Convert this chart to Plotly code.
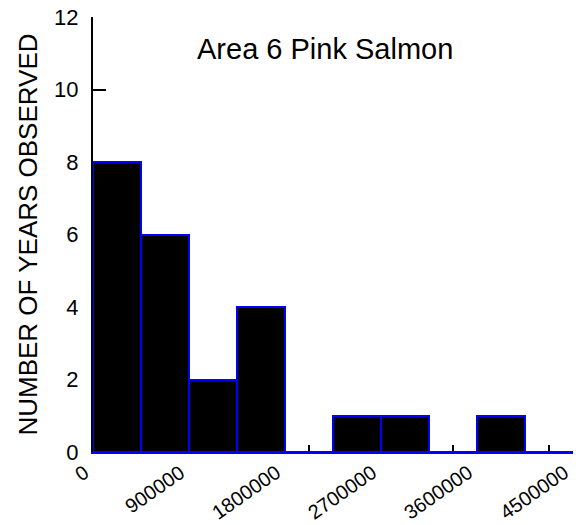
import plotly.graph_objects as go

# Histogram of annual pink salmon counts, Area 6
bin_width = 450000
bin_starts = [0, 450000, 900000, 1350000, 1800000, 2250000, 2700000, 3150000, 3600000, 4050000]
counts = [8, 6, 2, 4, 0, 1, 1, 0, 1, 0]

x_tick_vals = [0, 900000, 1800000, 2700000, 3600000, 4500000]
x_tick_text = ["0", "900000", "1800000", "2700000", "3600000", "4500000"]
y_tick_vals = [0, 2, 4, 6, 8, 10, 12]

title_text = "Area 6 Pink Salmon"
y_title = "NUMBER OF YEARS OBSERVED"

centers = [s + bin_width / 2 for s in bin_starts]
FONT = "Liberation Sans, Arial, sans-serif"

fig = go.Figure()
fig.add_trace(go.Bar(
    x=centers,
    y=counts,
    width=bin_width,
    marker=dict(color="black", line=dict(color="#0000ff", width=2)),
    hoverinfo="x+y",
))

fig.update_layout(
    width=576,
    height=525,
    margin=dict(l=93, r=3, t=17, b=73),
    paper_bgcolor="white",
    plot_bgcolor="white",
    showlegend=False,
    font=dict(family=FONT, color="black"),
    bargap=0,
)

fig.update_xaxes(
    range=[0, bin_starts[-1] + bin_width],
    tickmode="array",
    tickvals=x_tick_vals,
    showticklabels=False,
    ticks="inside",
    ticklen=13,
    tickwidth=2,
    tickcolor="black",
    minor=dict(tickmode="array", tickvals=centers, ticks="inside",
               ticklen=7, tickwidth=2, tickcolor="black"),
    showline=True,
    linecolor="#0000ff",
    linewidth=2,
    showgrid=False,
    zeroline=False,
    layer="below traces",
)

fig.update_yaxes(
    range=[0, 12],
    tickmode="array",
    tickvals=y_tick_vals,
    tickfont=dict(size=22, family=FONT, color="black"),
    ticks="inside",
    ticklen=13,
    tickwidth=2,
    tickcolor="black",
    ticklabelstandoff=8,
    showline=True,
    linecolor="black",
    linewidth=2,
    showgrid=False,
    zeroline=False,
    layer="below traces",
    title=dict(text=y_title, font=dict(size=26, family=FONT, color="black"), standoff=9),
)

# slanted x tick labels, right end aligned under each tick
for v, t in zip(x_tick_vals, x_tick_text):
    fig.add_annotation(
        text=t,
        xref="x", yref="paper",
        x=v, y=0,
        xanchor="right", yanchor="top",
        yshift=-7, xshift=1,
        textangle=-35,
        showarrow=False,
        borderpad=0,
        font=dict(size=20, family=FONT, color="black"),
    )

fig.add_annotation(
    text=title_text,
    xref="paper", yref="y",
    x=0.483, y=11.13,
    xanchor="center", yanchor="middle",
    showarrow=False,
    font=dict(size=29, family=FONT, color="black"),
)

fig.write_html("out.html")
